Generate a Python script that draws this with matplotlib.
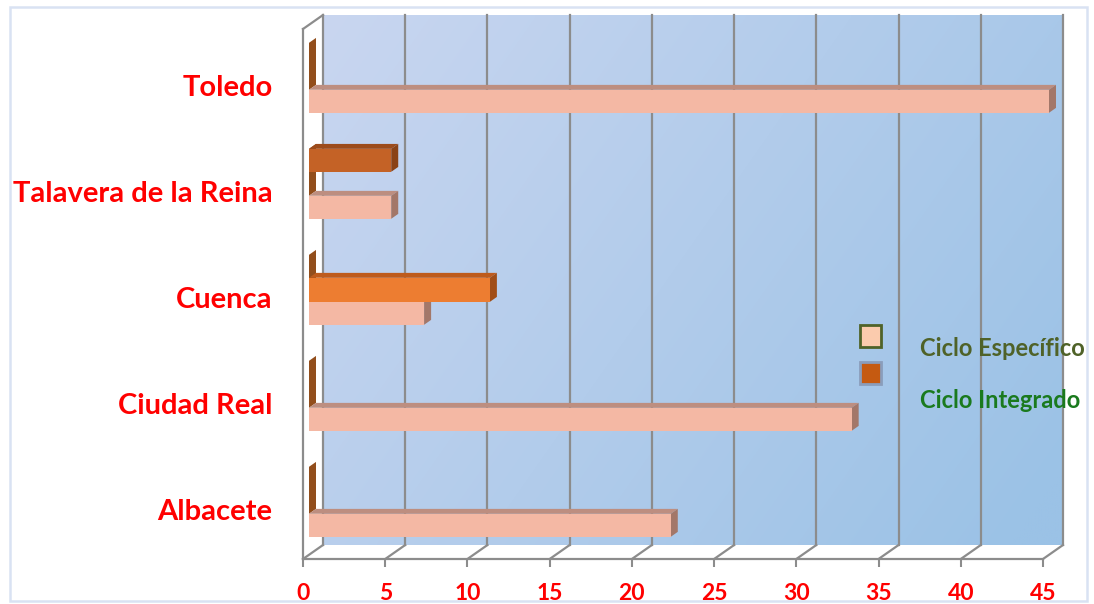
import matplotlib
matplotlib.use("Agg")
import matplotlib.pyplot as plt
import numpy as np
from matplotlib.patches import Polygon, Rectangle
from matplotlib.transforms import ScaledTranslation

# ---------------- data ----------------
categories = ['Albacete', 'Ciudad Real', 'Cuenca', 'Talavera de la Reina', 'Toledo']
especifico = [22, 33, 7, 5, 45]
integrado = [0, 0, 11, 5, 0]
xticks = [0, 5, 10, 15, 20, 25, 30, 35, 40, 45]
series_names = ['Ciclo Específico', 'Ciclo Integrado']

# ---------------- style ----------------
FONT = ['Lato', 'DejaVu Sans']
RED = '#FF0000'
GRID = '#8C8C8C'
ESP = dict(front='#F4B8A4', top='#BD8E80', side='#A37769')
INT = dict(front='#C46226', top='#9C4B1B', side='#8A4216')
INT_HI = dict(front='#ED7D31', top='#BE5B1C', side='#A14E17')
STUB = '#924E1C'
highlight_cat = 'Cuenca'          # bar drawn centred & brighter in the original

W, H = 1094, 604
fig = plt.figure(figsize=(W / 100, H / 100), dpi=100)
fig.patch.set_facecolor('white')

ax = fig.add_axes([303 / W, 45 / H, 740 / W, 530 / H])
XMAX = 45
ax.set_xlim(0, XMAX)
ax.set_ylim(-0.5, len(categories) - 0.5)
DX = XMAX * 20 / 740            # depth offset in data units (x)
DY = len(categories) * 14 / 530  # depth offset in data units (y)
y0, y1 = -0.5, len(categories) - 0.5

# back wall gradient
nx, ny = 200, 120
gx = np.linspace(0, 1, nx)[None, :]
gy = np.linspace(0, 1, ny)[:, None]
t = np.clip(0.7 * gx + 0.35 * gy, 0, 1)
c0 = np.array([0xC9, 0xD6, 0xF0]) / 255
c1 = np.array([0x9B, 0xC2, 0xE6]) / 255
img = c0[None, None, :] + (c1 - c0)[None, None, :] * t[:, :, None]
im = ax.imshow(img, extent=[DX, XMAX + DX, y0 + DY, y1 + DY], aspect='auto',
               origin='upper', zorder=0, interpolation='bilinear')
im.set_clip_on(False)
ax.set_xlim(0, XMAX)
ax.set_ylim(y0, y1)

lw = 1.6
for v in xticks:
    ax.plot([v + DX, v + DX], [y0 + DY, y1 + DY], color=GRID, lw=lw, zorder=1, clip_on=False)
    ax.plot([v, v + DX], [y0, y0 + DY], color=GRID, lw=lw, zorder=1, clip_on=False)
ax.plot([0, XMAX], [y0, y0], color=GRID, lw=lw, zorder=1, clip_on=False)
ax.plot([0, 0], [y0, y1], color=GRID, lw=lw, zorder=1, clip_on=False)
ax.plot([0, DX], [y1, y1 + DY], color=GRID, lw=lw, zorder=1, clip_on=False)

d0, d1 = 0.3, 0.65
BH = 0.217


def P(x, y, d):
    return (x + d * DX, y + d * DY)


def bar3d(v, ya, yb, col, z):
    top = Polygon([P(0, yb, d0), P(v, yb, d0), P(v, yb, d1), P(0, yb, d1)],
                  closed=True, facecolor=col['top'], edgecolor='none', zorder=z, clip_on=False)
    side = Polygon([P(v, ya, d0), P(v, yb, d0), P(v, yb, d1), P(v, ya, d1)],
                   closed=True, facecolor=col['side'], edgecolor='none', zorder=z, clip_on=False)
    front = Polygon([P(0, ya, d0), P(v, ya, d0), P(v, yb, d0), P(0, yb, d0)],
                    closed=True, facecolor=col['front'], edgecolor='none', zorder=z + 0.1, clip_on=False)
    for p in (top, side, front):
        ax.add_patch(p)


for i, cat in enumerate(categories):
    esp_lo, esp_hi = i - 0.33, i - 0.33 + BH
    int_lo, int_hi = i + 0.33 - BH, i + 0.33
    # base stub (side face at zero)
    stub = Polygon([P(0, esp_hi, d0), P(0, int_hi, d0), P(0, int_hi, d1), P(0, esp_hi, d1)],
                   closed=True, facecolor=STUB, edgecolor='none', zorder=2, clip_on=False)
    ax.add_patch(stub)
    bar3d(especifico[i], esp_lo, esp_hi, ESP, 3)
    if integrado[i] > 0:
        if cat == highlight_cat:
            bar3d(integrado[i], i - BH / 2 - 0.005, i + BH / 2 + 0.005, INT_HI, 4)
        else:
            bar3d(integrado[i], int_lo, int_hi, INT, 4)

for s in ax.spines.values():
    s.set_visible(False)
ax.set_xticks(xticks)
ax.set_xticklabels([str(v) for v in xticks], fontfamily=FONT, fontweight='bold',
                   fontsize=16.5, color=RED)
ax.tick_params(axis='x', length=6, width=1.5, color=GRID, pad=11)
ax.set_yticks(range(len(categories)))
ax.set_yticklabels(categories, fontfamily=FONT, fontweight='bold', fontsize=21, color=RED)
ax.tick_params(axis='y', length=0, pad=22)
shift = ScaledTranslation(0, -3 / 100, fig.dpi_scale_trans)
for lab in ax.get_yticklabels():
    lab.set_transform(lab.get_transform() + shift)
ax.set_facecolor('none')

# legend
fig.add_artist(Rectangle((860 / W, (H - 347) / H), 21 / W, 22 / H, transform=fig.transFigure,
                         facecolor='#FBCBAD', edgecolor='#4F6228', lw=2))
fig.add_artist(Rectangle((860 / W, (H - 384) / H), 21 / W, 22 / H, transform=fig.transFigure,
                         facecolor='#C55A11', edgecolor='#8A9DBB', lw=2))
fig.text(920 / W, (H - 349) / H, series_names[0], fontfamily=FONT, fontweight='bold',
         fontsize=17, color='#4F6228', va='center', ha='left')
fig.text(920 / W, (H - 400) / H, series_names[1], fontfamily=FONT, fontweight='bold',
         fontsize=17, color='#1A7A1E', va='center', ha='left')

# outer chart border
fig.add_artist(Rectangle((10 / W, 3 / H), 1077 / W, 594 / H, transform=fig.transFigure,
                         fill=False, edgecolor='#D9E2F3', lw=1.8, zorder=10))

fig.savefig('out.png', dpi=100)
